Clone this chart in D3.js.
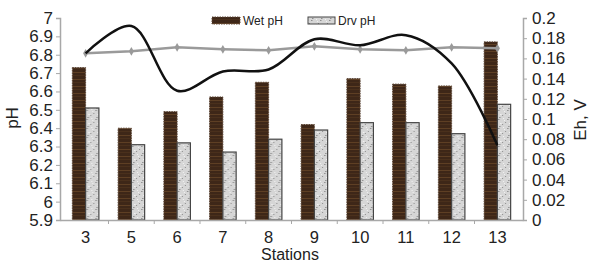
<!DOCTYPE html>
<html>
<head>
<meta charset="utf-8">
<script src="https://cdn.jsdelivr.net/npm/d3@7"></script>
<style>
  body { margin: 0; background: #fff; }
  svg { display: block; font-family: "Liberation Sans", Arial, sans-serif; }
</style>
</head>
<body>
<div id="chart"></div>
<script>
// stations and values
const stations = ["3", "5", "6", "7", "8", "9", "10", "11", "12", "13"];
const wetPH = [6.73, 6.40, 6.49, 6.57, 6.65, 6.42, 6.67, 6.64, 6.63, 6.87];
const dryPH = [6.51, 6.31, 6.32, 6.27, 6.34, 6.39, 6.43, 6.43, 6.37, 6.53];
const ehBlack = [0.165, 0.192, 0.128, 0.147, 0.149, 0.179, 0.173, 0.183, 0.155, 0.074];
const ehGray = [0.165, 0.167, 0.171, 0.169, 0.168, 0.172, 0.169, 0.168, 0.171, 0.170];
const phTicks = [5.9, 6, 6.1, 6.2, 6.3, 6.4, 6.5, 6.6, 6.7, 6.8, 6.9, 7];
const ehTicks = [0, 0.02, 0.04, 0.06, 0.08, 0.1, 0.12, 0.14, 0.16, 0.18, 0.2];

const width = 589, height = 264;
const plotLeft = 60, plotRight = 523, plotTop = 18, plotBottom = 220;

const svg = d3.select("#chart").append("svg")
    .attr("width", width)
    .attr("height", height);

// textures for the bars
const defs = svg.append("defs");
const wet = defs.append("pattern")
    .attr("id", "wet")
    .attr("patternUnits", "userSpaceOnUse")
    .attr("width", 8).attr("height", 7);
wet.append("rect").attr("width", 8).attr("height", 7).attr("fill", "#3e2718");
wet.append("rect").attr("y", 2).attr("width", 8).attr("height", 1).attr("fill", "#5e3f24");
wet.append("rect").attr("y", 5).attr("width", 8).attr("height", 1).attr("fill", "#4a301c");

const dry = defs.append("pattern")
    .attr("id", "dry")
    .attr("patternUnits", "userSpaceOnUse")
    .attr("width", 9).attr("height", 9);
dry.append("rect").attr("width", 9).attr("height", 9).attr("fill", "#d6d6d6");
[[1, 1], [5, 2], [3, 5], [7, 6], [0, 7], [6, 0], [2, 3]].forEach(function (p, i) {
    dry.append("rect")
        .attr("x", p[0]).attr("y", p[1])
        .attr("width", i % 2 ? 1.5 : 1).attr("height", 1)
        .attr("fill", i % 3 ? "#8e8e8e" : "#f2f2f2");
});

// scales
const x = d3.scaleBand()
    .domain(stations)
    .range([plotLeft, plotRight])
    .paddingInner(0.42)
    .paddingOuter(0.27);

const xSub = d3.scaleBand()
    .domain(["wet", "dry"])
    .range([0, x.bandwidth()]);

const yPH = d3.scaleLinear()
    .domain([5.9, 7])
    .range([plotBottom, plotTop]);

const yEh = d3.scaleLinear()
    .domain([0, 0.2])
    .range([plotBottom, plotTop]);

// bars
const groups = svg.append("g")
    .selectAll("g")
    .data(stations).enter()
    .append("g")
    .attr("transform", function (d) { return "translate(" + x(d) + ",0)"; });

groups.append("rect")
    .attr("x", xSub("wet"))
    .attr("y", function (d, i) { return yPH(wetPH[i]); })
    .attr("width", xSub.bandwidth())
    .attr("height", function (d, i) { return plotBottom - yPH(wetPH[i]); })
    .attr("fill", "url(#wet)")
    .attr("stroke", "#5b4535")
    .attr("stroke-width", 1)
    .attr("stroke-dasharray", "1.5,1");

groups.append("rect")
    .attr("x", xSub("dry"))
    .attr("y", function (d, i) { return yPH(dryPH[i]); })
    .attr("width", xSub.bandwidth())
    .attr("height", function (d, i) { return plotBottom - yPH(dryPH[i]); })
    .attr("fill", "url(#dry)")
    .attr("stroke", "#444")
    .attr("stroke-width", 1.2);

// axes
const axisColor = "#a8a8a8";

const xAxis = svg.append("g")
    .attr("transform", "translate(0," + plotBottom + ")")
    .call(d3.axisBottom(x).tickSize(0).tickPadding(11));
xAxis.select(".domain").attr("stroke", axisColor).attr("stroke-width", 1.5);
xAxis.selectAll("text")
    .attr("font-size", 16.5)
    .attr("fill", "#222")
    .attr("font-family", "Liberation Sans, Arial, sans-serif");
// small ticks between stations
xAxis.selectAll(".sep")
    .data(stations.slice(1)).enter()
    .append("line")
    .attr("class", "sep")
    .attr("x1", function (d) { return x(d) - x.step() * x.paddingInner() / 2; })
    .attr("x2", function (d) { return x(d) - x.step() * x.paddingInner() / 2; })
    .attr("y1", 0).attr("y2", 4)
    .attr("stroke", axisColor);

const yAxisL = svg.append("g")
    .attr("transform", "translate(" + plotLeft + ",0)")
    .call(d3.axisLeft(yPH).tickValues(phTicks).tickSize(4).tickPadding(3)
        .tickFormat(d3.format("")));
yAxisL.select(".domain").attr("stroke", axisColor).attr("stroke-width", 1.5);
yAxisL.selectAll(".tick line").attr("stroke", axisColor);
yAxisL.selectAll("text")
    .attr("font-size", 17)
    .attr("fill", "#222")
    .attr("font-family", "Liberation Sans, Arial, sans-serif");

const yAxisR = svg.append("g")
    .attr("transform", "translate(" + plotRight + ",0)")
    .call(d3.axisRight(yEh).tickValues(ehTicks).tickSize(4).tickPadding(5)
        .tickFormat(d3.format("")));
yAxisR.select(".domain").attr("stroke", axisColor).attr("stroke-width", 1.5);
yAxisR.selectAll(".tick line").attr("stroke", axisColor);
yAxisR.selectAll("text")
    .attr("font-size", 17)
    .attr("fill", "#222")
    .attr("font-family", "Liberation Sans, Arial, sans-serif");

// axis titles
svg.append("text")
    .attr("x", 290).attr("y", 260)
    .attr("text-anchor", "middle")
    .attr("font-size", 16)
    .attr("fill", "#222")
    .text("Stations");

svg.append("text")
    .attr("transform", "translate(18,118) rotate(-90)")
    .attr("text-anchor", "middle")
    .attr("font-size", 17)
    .attr("fill", "#222")
    .text("pH");

svg.append("text")
    .attr("transform", "translate(586,120) rotate(-90)")
    .attr("text-anchor", "middle")
    .attr("font-size", 17)
    .attr("fill", "#222")
    .text("Eh, V");

// lines
const cx = function (d, i) { return x(stations[i]) + x.bandwidth() / 2; };

svg.append("path")
    .datum(ehGray)
    .attr("fill", "none")
    .attr("stroke", "#9a9a9a")
    .attr("stroke-width", 2.5)
    .attr("d", d3.line().x(cx).y(function (d) { return yEh(d); }));

svg.append("g")
    .selectAll("path")
    .data(ehGray).enter()
    .append("path")
    .attr("transform", function (d, i) { return "translate(" + cx(d, i) + "," + yEh(d) + ")"; })
    .attr("d", d3.symbol().type(d3.symbolDiamond).size(22))
    .attr("fill", "#9a9a9a");

svg.append("path")
    .datum(ehBlack)
    .attr("fill", "none")
    .attr("stroke", "#111")
    .attr("stroke-width", 2.5)
    .attr("d", d3.line().x(cx).y(function (d) { return yEh(d); })
        .curve(d3.curveCatmullRom.alpha(0.5)));

// legend
const legend = svg.append("g").attr("font-size", 12).attr("fill", "#222");
legend.append("rect")
    .attr("x", 212).attr("y", 17).attr("width", 28).attr("height", 7)
    .attr("fill", "url(#wet)").attr("stroke", "#5b4535").attr("stroke-dasharray", "1.5,1");
legend.append("text").attr("x", 243).attr("y", 25).text("Wet pH");
legend.append("rect")
    .attr("x", 308).attr("y", 17).attr("width", 27).attr("height", 7)
    .attr("fill", "url(#dry)").attr("stroke", "#444");
legend.append("text").attr("x", 338).attr("y", 25).text("Drv pH");
</script>
</body>
</html>
